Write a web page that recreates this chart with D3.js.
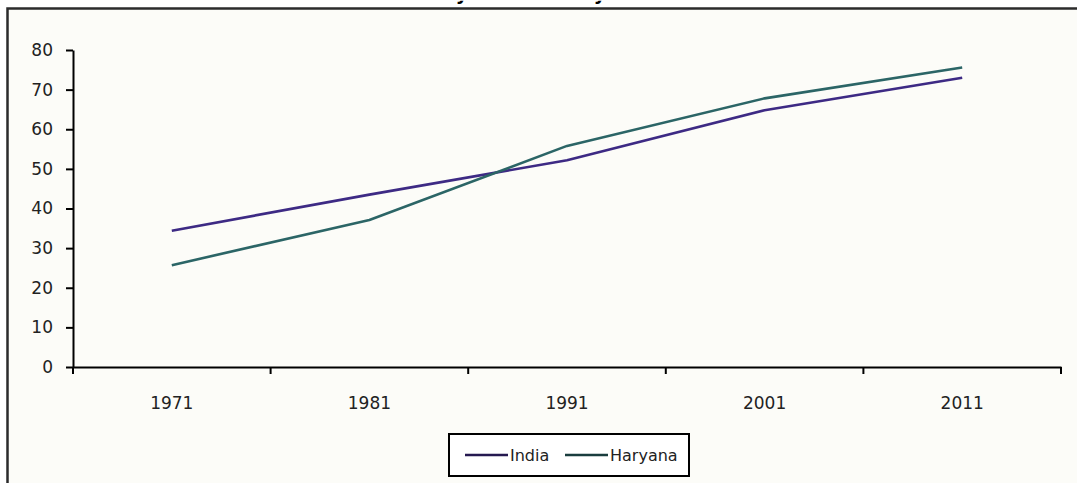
<!DOCTYPE html>
<html>
<head>
<meta charset="utf-8">
<script src="https://cdn.jsdelivr.net/npm/d3@7"></script>
<style>
  html, body { margin: 0; padding: 0; background: #ffffff; }
  svg { display: block; }
</style>
</head>
<body>
<svg id="chart" width="1077" height="483"></svg>
<script>
// ---- data ----
const titleText = "Literacy Rate of Haryana and India";
const years = ["1971", "1981", "1991", "2001", "2011"];
const indiaValues = [34.4, 43.5, 52.2, 64.8, 73.0];
const haryanaValues = [25.7, 37.1, 55.8, 67.8, 75.6];
const yTicks = [0, 10, 20, 30, 40, 50, 60, 70, 80];
const seriesNames = ["India", "Haryana"];

// ---- layout ----
const W = 1077, H = 483;
const plot = { left: 73, right: 1061, top: 50, bottom: 367 };
const colors = { India: "#3d2a84", Haryana: "#2b6566" };
const font = "'DejaVu Sans', Verdana, sans-serif";

const svg = d3.select("#chart");

// clip for the title: only the part below its baseline lies on the page
svg.append("defs").append("clipPath").attr("id", "titleClip")
  .append("rect").attr("x", 0).attr("y", 0.8).attr("width", W).attr("height", 7);

// frame background + border
svg.append("rect").attr("x", 8).attr("y", 9).attr("width", W - 8).attr("height", H - 9)
  .attr("fill", "#fcfcf8");
svg.append("path")
  .attr("d", `M7.5,${H} L7.5,8.5 L${W},8.5`)
  .attr("fill", "none").attr("stroke", "#2b2b2b").attr("stroke-width", 2.5);

// title (mostly above the page, only descenders visible)
const title = svg.append("text")
  .attr("clip-path", "url(#titleClip)")
  .attr("font-family", font).attr("font-weight", "bold")
  .attr("font-size", 20).attr("fill", "#000")
  .attr("x", 0).attr("y", 0)
  .text(titleText);
(function placeTitle() {
  const n = title.node();
  const i1 = titleText.indexOf("y");
  const i2 = titleText.indexOf("y", i1 + 1);
  const g = n.getStartPositionOfChar(i2).x - n.getStartPositionOfChar(i1).x;
  const fs = 20 * 138 / g;
  title.attr("font-size", fs);
  const p1 = n.getStartPositionOfChar(i1).x;
  const w1 = n.getExtentOfChar(i1).width;
  title.attr("x", 460 - (p1 + w1 * 0.35));
})();

// scales
const x = d3.scaleBand().domain(years).range([plot.left, plot.right]).padding(0);
const y = d3.scaleLinear().domain([0, 80]).range([plot.bottom, plot.top]);

// y axis
const yAxis = svg.append("g").attr("transform", `translate(${plot.left},0)`)
  .call(d3.axisLeft(y).tickValues(yTicks).tickSize(7).tickSizeOuter(0).tickPadding(13));
yAxis.select(".domain").attr("stroke", "#000").attr("stroke-width", 2);
yAxis.selectAll(".tick line").attr("stroke", "#000").attr("stroke-width", 2);
yAxis.selectAll(".tick text").attr("font-family", font).attr("font-size", 17).attr("fill", "#222");

// x axis
const xAxis = svg.append("g").attr("transform", `translate(0,${plot.bottom})`)
  .call(d3.axisBottom(x).tickSize(0).tickSizeOuter(0).tickPadding(30));
xAxis.select(".domain").attr("stroke", "#000").attr("stroke-width", 2);
xAxis.selectAll(".tick text").attr("font-family", font).attr("font-size", 17).attr("fill", "#222");
const boundaries = years.map(d => x(d)).concat([x(years[years.length - 1]) + x.bandwidth()]);
xAxis.selectAll("line.bound").data(boundaries).enter().append("line")
  .attr("class", "bound")
  .attr("x1", d => d).attr("x2", d => d).attr("y1", 0).attr("y2", 7)
  .attr("stroke", "#000").attr("stroke-width", 2);

// lines
const line = d3.line()
  .x((d, i) => x(years[i]) + x.bandwidth() / 2)
  .y(d => y(d))
  .curve(d3.curveLinear);

const series = [
  { name: "India", values: indiaValues },
  { name: "Haryana", values: haryanaValues }
];
svg.append("g").selectAll("path").data(series).enter().append("path")
  .attr("d", d => line(d.values))
  .attr("fill", "none")
  .attr("stroke", d => colors[d.name])
  .attr("stroke-width", 2.6)
  .attr("stroke-linejoin", "round");

// legend
const lg = svg.append("g");
lg.append("rect").attr("x", 449).attr("y", 434).attr("width", 240).attr("height", 42)
  .attr("fill", "#ffffff").attr("stroke", "#000").attr("stroke-width", 2);
const legendX = [465, 565];
seriesNames.forEach((name, i) => {
  lg.append("line").attr("x1", legendX[i]).attr("x2", legendX[i] + 43)
    .attr("y1", 455).attr("y2", 455)
    .attr("stroke", d3.color(colors[name]).darker(1.4)).attr("stroke-width", 2.4);
  lg.append("text").attr("x", legendX[i] + 45).attr("y", 461)
    .attr("font-family", font).attr("font-size", 16).attr("fill", "#222")
    .text(name);
});
</script>
</body>
</html>
